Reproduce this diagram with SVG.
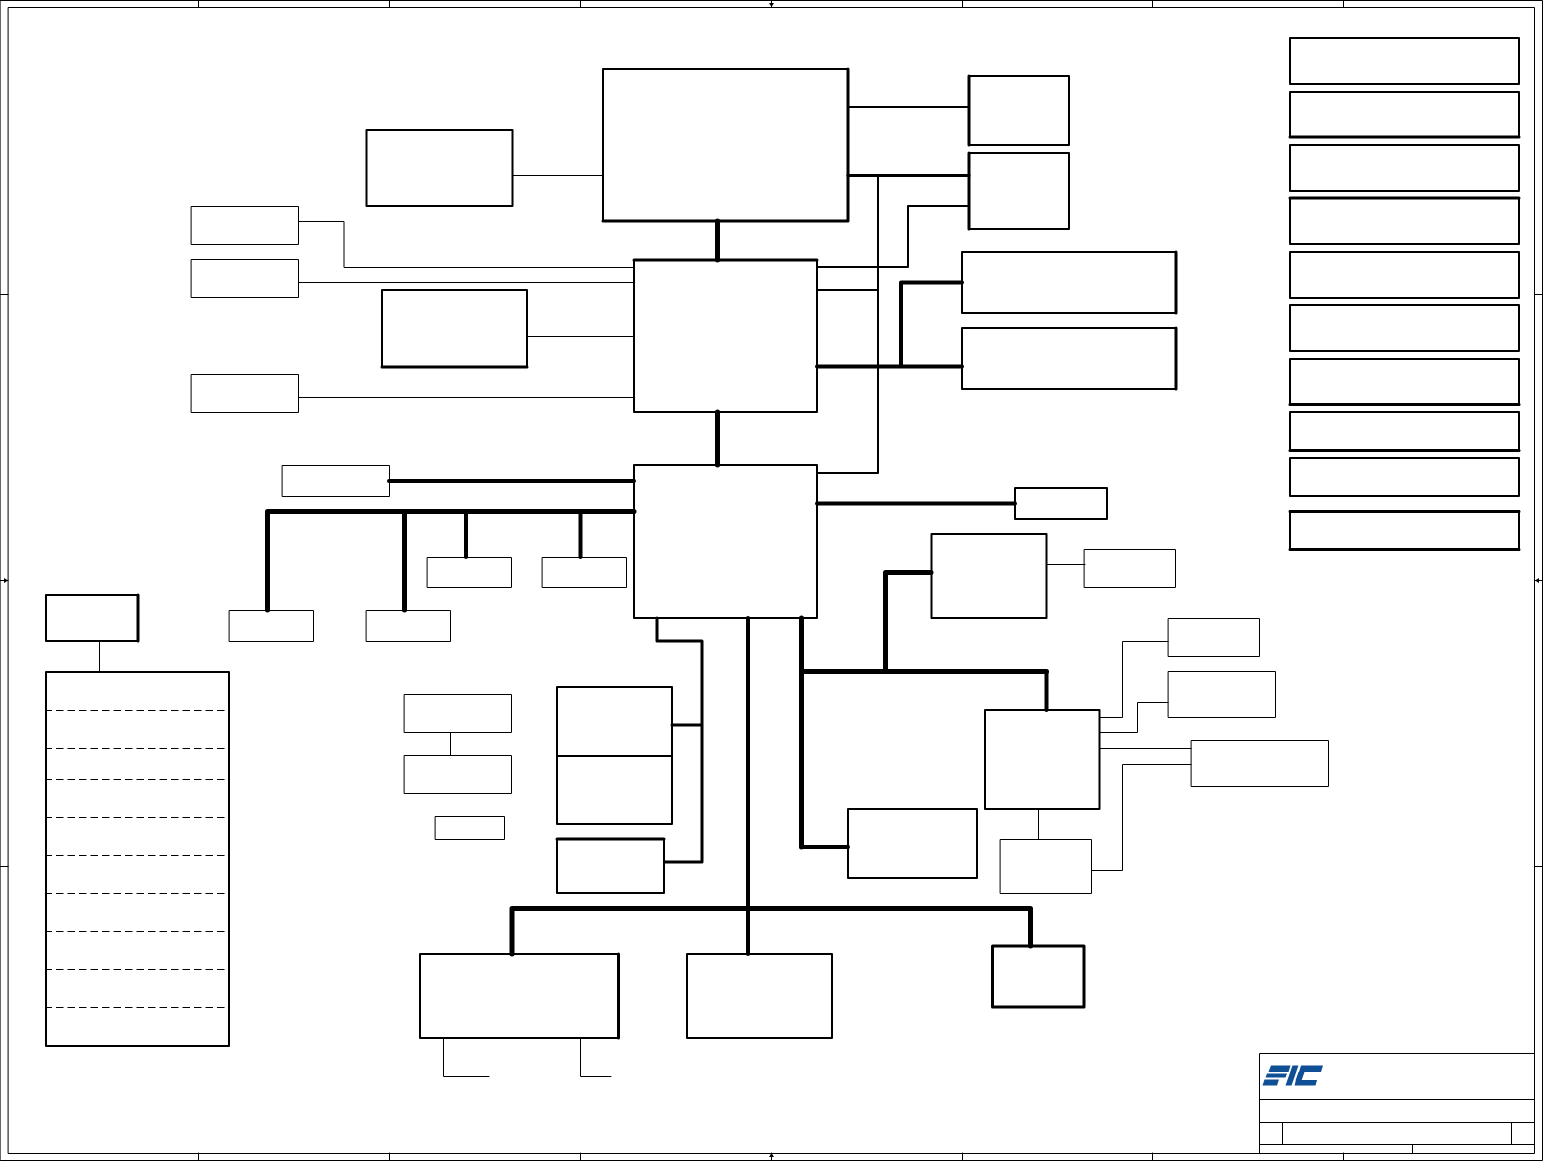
<svg xmlns="http://www.w3.org/2000/svg" width="1543" height="1161" viewBox="0 0 1543 1161">
<style>
rect,path{fill:none;stroke:#000;stroke-linecap:round;stroke-linejoin:round}
.t1{stroke-width:1}.t2{stroke-width:2}.t3{stroke-width:3}.t4{stroke-width:4}.t5{stroke-width:5}
.dash{stroke-dasharray:7.500 4;stroke-dashoffset:2.500;stroke-linecap:butt}
</style>
<rect width="1543" height="1161" style="fill:#fff;stroke:none"/>
<g id="frame">
<rect class="t1" x="0.5" y="0.5" width="1542" height="1160"/>
<rect class="t1" x="8.5" y="7.5" width="1526" height="1146"/>
<path class="t1" d="M198.500 0V7M389.500 0V7M580.500 0V7M771.500 0V7M962.500 0V7M1152.500 0V7M1343.500 0V7M198.500 1153V1161M389.500 1153V1161M580.500 1153V1161M771.500 1153V1161M962.500 1153V1161M1152.500 1153V1161M1343.500 1153V1161M0 294.500H8M0 580.500H8M0 866.500H8M1535 294.500H1543M1535 580.500H1543M1535 866.500H1543"/>
<path d="M769 3h5l-2.500 4zM769 1157h5l-2.500-4zM4 578v5l4-2.500zM1539 578v5l-4-2.500z" style="fill:#000;stroke:none"/>
</g>
<g id="connectors">
<path class="t1" d="M513 175.500H603M299 221.500H344V267.500H634M299 282.500H634M527 336.500H634M299 397.500H634"/>
<path class="t2" d="M848 107H969M817 267H908V206H969M817 290H878M817 473H878V176"/>
<path class="t3" d="M848 175.500H969"/>
<path class="t4" d="M817 366.500H962M901 366.500V282.500H962"/>
<path class="t5" d="M717.500 221V260M717.500 412V465"/>
<path class="t4" d="M389 481H634M817 503.500H1015"/>
<path class="t5" d="M634 511.500H267.500V610M404.500 511.500V610"/>
<path class="t4" d="M466 511.500V557M580.500 511.500V557"/>
<path class="t3" d="M657 618V641H702V862H665M672 725H702"/>
<path class="t4" d="M748 618V954"/>
<path class="t5" d="M512 954V908.500H1030.500V946"/>
<path class="t5" d="M801.500 618V847M801.500 671.500H1046.500M885.500 671.500V572.500H931"/>
<path class="t4" d="M801.500 847H848M1046.500 671.500V710"/>
<path class="t1" d="M1047 564.500H1085M1100 717.500H1122.500V641.500H1168M1100 732.500H1137.500V702.500H1168M1100 748.500H1191M1092 870.500H1122.500V764.500H1191M1038.500 809V839M450.500 733V755M99.500 641V672M443.500 1038V1076.500H489M580.500 1038V1076.500H611"/>
</g>
<g id="cpu"><rect class="t2" x="603" y="69" width="245" height="152"/><path class="t3" d="M848 69V221H603"/></g>
<g id="clock"><rect class="t2" x="366.500" y="130" width="146" height="76"/></g>
<g id="mem-a"><rect class="t2" x="969" y="76" width="100" height="69"/><path class="t3" d="M969 76V145"/></g>
<g id="mem-b"><rect class="t2" x="969" y="153" width="100" height="76"/><path class="t3" d="M969 153V229"/></g>
<g id="north-bridge"><rect class="t2" x="634" y="260" width="183" height="152"/><path class="t3" d="M634 260H817"/></g>
<g id="south-bridge"><rect class="t2" x="634" y="465" width="183" height="153"/></g>
<g id="left-a"><rect class="t1" x="191.500" y="206.500" width="107" height="38"/></g>
<g id="left-b"><rect class="t1" x="191.500" y="259.500" width="107" height="38"/></g>
<g id="left-c"><rect class="t1" x="191.500" y="374.500" width="107" height="38"/></g>
<g id="gfx"><rect class="t2" x="382" y="290" width="145" height="77"/><path class="t3" d="M382 367H527"/></g>
<g id="dimm-a"><rect class="t2" x="962" y="252" width="214" height="61"/><path class="t3" d="M1176 252V313"/></g>
<g id="dimm-b"><rect class="t2" x="962" y="328" width="214" height="61"/><path class="t3" d="M1176 328V389"/></g>
<g id="small-a"><rect class="t1" x="282.500" y="465.500" width="107" height="31"/></g>
<g id="small-b"><rect class="t2" x="1015" y="488" width="92" height="31"/></g>
<g id="usb-a"><rect class="t1" x="427.500" y="557.500" width="84" height="30"/></g>
<g id="usb-b"><rect class="t1" x="542.500" y="557.500" width="84" height="30"/></g>
<g id="usb-c"><rect class="t1" x="229.500" y="610.500" width="84" height="31"/></g>
<g id="usb-d"><rect class="t1" x="366.500" y="610.500" width="84" height="31"/></g>
<g id="power-header"><rect class="t2" x="46" y="595" width="92" height="46"/><path class="t3" d="M138 595V641"/></g>
<g id="power-list">
<rect class="t2" x="46" y="672" width="183" height="374"/>
<path class="t1 dash" d="M47 710.500H226M47 748.500H226M47 779.500H226M47 817.500H226M47 855.500H226M47 893.500H226M47 931.500H226M47 969.500H226M47 1007.500H226"/>
</g>
<g id="mid-a"><rect class="t1" x="404.500" y="694.500" width="107" height="38"/></g>
<g id="mid-b"><rect class="t1" x="404.500" y="755.500" width="107" height="38"/></g>
<g id="mid-c"><rect class="t1" x="435.500" y="816.500" width="69" height="23"/></g>
<g id="slot-a"><rect class="t2" x="557" y="687" width="115" height="69"/></g>
<g id="slot-b"><rect class="t2" x="557" y="756" width="115" height="68"/></g>
<g id="slot-c"><rect class="t2" x="557" y="839" width="107" height="54"/><path class="t3" d="M557 839H664"/></g>
<g id="bottom-a"><rect class="t2" x="420" y="954" width="198.500" height="84"/><path class="t3" d="M618.500 954V1038"/></g>
<g id="bottom-b"><rect class="t2" x="687" y="954" width="145" height="84"/></g>
<g id="bottom-c"><rect class="t3" x="992.500" y="946" width="91.500" height="61"/></g>
<g id="ec"><rect class="t2" x="848" y="809" width="129" height="69"/></g>
<g id="r-a"><rect class="t2" x="931.500" y="534" width="115" height="84"/></g>
<g id="r-b"><rect class="t1" x="1084.500" y="549.500" width="91" height="38"/></g>
<g id="r-c"><rect class="t2" x="985" y="710" width="114.500" height="99"/></g>
<g id="r-d"><rect class="t1" x="1000.500" y="839.500" width="91" height="54"/></g>
<g id="r-e"><rect class="t1" x="1168.500" y="618.500" width="91" height="38"/></g>
<g id="r-f"><rect class="t1" x="1168.500" y="671.500" width="107" height="46"/></g>
<g id="r-g"><rect class="t1" x="1191.500" y="740.500" width="137" height="46"/></g>
<g id="index">
<rect class="t2" x="1290" y="38" width="229" height="46"/>
<rect class="t2" x="1290" y="92" width="229" height="45"/><path class="t3" d="M1290 137H1519"/>
<rect class="t2" x="1290" y="145" width="229" height="46"/>
<rect class="t2" x="1290" y="198" width="229" height="46"/><path class="t3" d="M1290 198H1519"/>
<rect class="t2" x="1290" y="252" width="229" height="46"/>
<rect class="t2" x="1290" y="305" width="229" height="46"/>
<rect class="t2" x="1290" y="359" width="229" height="46"/><path class="t3" d="M1290 404.500H1519"/>
<rect class="t2" x="1290" y="412" width="229" height="39"/><path class="t3" d="M1290 450.500H1519"/>
<rect class="t2" x="1290" y="458" width="229" height="38"/>
<rect class="t2" x="1290" y="511" width="229" height="39"/><path class="t3" d="M1290 511.500H1519M1290 549.500H1519"/>
</g>
<g id="title-block">
<path class="t1" d="M1259.500 1153V1053.500H1534M1259.500 1099.500H1534M1259.500 1122.500H1534M1259.500 1144.500H1534M1282.500 1122.500V1144.500M1511.500 1122.500V1144.500M1412.500 1144.500V1153"/>
<g style="fill:#0f4f96">
<polygon points="1271,1065.500 1290.500,1065.500 1288.500,1072 1268.500,1072"/>
<polygon points="1267,1073.500 1287,1073.500 1285.500,1077.500 1265.500,1077.500"/>
<polygon points="1264.500,1079.500 1279,1079.500 1277,1085.500 1262.500,1085.500"/>
<polygon points="1292.500,1065.500 1298.500,1065.500 1291.500,1085.500 1285.500,1085.500"/>
<polygon points="1301,1065.500 1323,1065.500 1321,1072 1299,1072"/>
<polygon points="1298.500,1072 1304.500,1072 1301.500,1080.500 1295.500,1080.500"/>
<polygon points="1296,1080 1317,1080 1315.500,1085.500 1294.500,1085.500"/>
</g>
</g>
</svg>
